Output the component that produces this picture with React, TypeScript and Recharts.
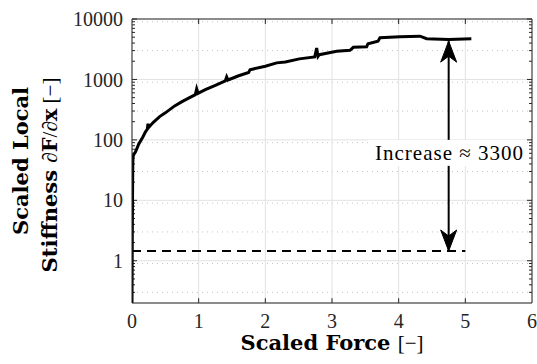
import React from 'react';
import { ComposedChart, Line, Scatter, XAxis, YAxis, CartesianGrid, ReferenceLine } from 'recharts';

// Scaled force (x) and scaled local stiffness (y) of the measured curve
const forceX = [0, 0.004, 0.008, 0.012, 0.015, 0.03, 0.055, 0.1, 0.165, 0.2, 0.23, 0.24, 0.25, 0.32, 0.415, 0.5, 0.64, 0.75, 0.85, 0.95, 0.97, 0.99, 1.1, 1.25, 1.4, 1.42, 1.44, 1.6, 1.75, 1.77, 2.0, 2.17, 2.3, 2.51, 2.74, 2.77, 2.79, 2.81, 3.07, 3.27, 3.32, 3.52, 3.54, 3.69, 3.72, 4.02, 4.32, 4.42, 4.75, 5.09];
const stiffness = [0.2, 2, 12, 40, 53, 58, 64, 85, 113, 135, 150, 185, 160, 195, 243, 280, 365, 430, 490, 560, 700, 590, 680, 800, 950, 1100, 980, 1150, 1300, 1450, 1650, 1880, 1950, 2190, 2350, 3300, 2400, 2570, 2930, 3030, 3400, 3480, 3900, 4300, 4900, 5080, 5200, 4710, 4580, 4700];

const baselineX = [0, 5];
const baselineLevel = 1.45;
const arrowX = 4.75;
const arrowY = [1.45, 4300];
const annotationX = [5.88];
const annotationY = [61];
const annotationText = 'Increase \u2248 3300';

const xTicks = [0, 1, 2, 3, 4, 5, 6];
const yTicks = [1, 10, 100, 1000, 10000];
const yMinor = [0.3, 0.4, 0.5, 0.6, 0.7, 0.8, 0.9, 2, 3, 4, 5, 6, 7, 8, 9, 20, 30, 40, 50, 60, 70, 80, 90, 200, 300, 400, 500, 600, 700, 800, 900, 2000, 3000, 4000, 5000, 6000, 7000, 8000, 9000];

const curveData = forceX.map((x, i) => ({ x, y: stiffness[i] }));
const baselineData = baselineX.map((x) => ({ x, y: baselineLevel }));
const arrowData = arrowY.map((y) => ({ x: arrowX, y }));
const annotationData = annotationX.map((x, i) => ({ x, y: annotationY[i] }));

const FONT = '"Liberation Serif", serif';
const BOLD_FONT = '"DejaVu Serif", serif';
const AX = '#262626';

const ArrowHead = (props: any) => {
  const { cx, cy, index } = props;
  if (cx == null || cy == null) return <g key={`ah-${index}`} />;
  const s = index === 0 ? -1 : 1; // 0: bottom (points down), 1: top (points up)
  const d = `M${cx},${cy} L${cx - 8},${cy + s * 21} L${cx},${cy + s * 15} L${cx + 8},${cy + s * 21} Z`;
  return <path key={`ah-${index}`} d={d} fill="#000" stroke="#000" strokeWidth={1} />;
};

const Annotation = (props: any) => {
  const { cx, cy } = props;
  return (
    <g>
      <rect x={cx - 156} y={cy - 13} width={158} height={26} fill="#fff" />
      <text x={cx} y={cy} dy="0.33em" textAnchor="end" fontFamily={FONT} fontSize={21} letterSpacing={1} fill="#000">
        {annotationText}
      </text>
    </g>
  );
};

const YLabel = (props: any) => {
  const vb = props.viewBox || { x: 0, y: 19, width: 132, height: 284 };
  const cy = vb.y + vb.height / 2;
  const cy2 = cy + 14;
  const x1 = vb.x + 28;
  const x2 = vb.x + 57;
  return (
    <g fontSize={21} fill="#000">
      <text x={x1} y={cy} textAnchor="middle" transform={`rotate(-90 ${x1} ${cy})`} fontWeight="bold" fontFamily={BOLD_FONT}>
        Scaled Local
      </text>
      <text x={x2} y={cy2} textAnchor="middle" transform={`rotate(-90 ${x2} ${cy2})`}>
        <tspan fontWeight="bold" fontFamily={BOLD_FONT}>Stiffness </tspan>
        <tspan fontFamily={FONT}>{'\u2202'}</tspan>
        <tspan fontWeight="bold" fontFamily={BOLD_FONT}>F</tspan>
        <tspan fontFamily={FONT}>{'/\u2202'}</tspan>
        <tspan fontWeight="bold" fontFamily={BOLD_FONT}>x</tspan>
        <tspan fontFamily={FONT}>{' [\u2212]'}</tspan>
      </text>
    </g>
  );
};

const XLabel = (props: any) => {
  const vb = props.viewBox || { x: 132, y: 303, width: 400, height: 61 };
  const cx = vb.x + vb.width / 2;
  const y = vb.y + 47;
  return (
    <text x={cx} y={y} textAnchor="middle" fontSize={21} fill="#000">
      <tspan fontWeight="bold" fontFamily={BOLD_FONT}>Scaled Force </tspan>
      <tspan fontFamily={FONT}>{'[\u2212]'}</tspan>
    </text>
  );
};

const tickStyle = { fontFamily: FONT, fontSize: 20, fill: AX };

export default function App() {
  const inwardTicks: React.ReactNode[] = [];
  yTicks.forEach((v) => {
    inwardTicks.push(<ReferenceLine key={`l${v}`} segment={[{ x: 0, y: v }, { x: 0.075, y: v }]} stroke={AX} />);
    inwardTicks.push(<ReferenceLine key={`r${v}`} segment={[{ x: 6, y: v }, { x: 5.925, y: v }]} stroke={AX} />);
  });
  yMinor.forEach((v) => {
    inwardTicks.push(<ReferenceLine key={`lm${v}`} segment={[{ x: 0, y: v }, { x: 0.045, y: v }]} stroke={AX} />);
    inwardTicks.push(<ReferenceLine key={`rm${v}`} segment={[{ x: 6, y: v }, { x: 5.955, y: v }]} stroke={AX} />);
  });
  xTicks.slice(1, -1).forEach((v) => {
    inwardTicks.push(<ReferenceLine key={`b${v}`} segment={[{ x: v, y: 0.2 }, { x: v, y: 0.24 }]} stroke={AX} />);
    inwardTicks.push(<ReferenceLine key={`t${v}`} segment={[{ x: v, y: 10000 }, { x: v, y: 8270 }]} stroke={AX} />);
  });

  return (
    <div style={{ position: 'absolute', left: 0, top: 0, background: '#fff' }}>
      <ComposedChart width={537} height={364} margin={{ top: 19, right: 5, bottom: 0, left: 0 }}>
        <CartesianGrid horizontalValues={yMinor} vertical={false} stroke="#c4c4c4" strokeDasharray="1 4" />
        <CartesianGrid stroke="#e2e2e2" />
        <XAxis
          dataKey="x"
          type="number"
          domain={[0, 6]}
          ticks={xTicks}
          allowDataOverflow
          height={61}
          tickLine={false}
          tickSize={0}
          tickMargin={11}
          tick={tickStyle}
          axisLine={{ stroke: AX }}
          label={<XLabel />}
        />
        <YAxis
          dataKey="y"
          type="number"
          scale="log"
          domain={[0.2, 10000]}
          ticks={yTicks}
          allowDataOverflow
          width={132}
          tickLine={false}
          tickSize={0}
          tickMargin={9}
          tick={tickStyle}
          axisLine={{ stroke: AX }}
          label={<YLabel />}
        />
        <ReferenceLine y={10000} stroke={AX} />
        <ReferenceLine x={6} stroke={AX} />
        {inwardTicks}
        <Line data={baselineData} dataKey="y" stroke="#000" strokeWidth={2} strokeDasharray="9 6" dot={false} isAnimationActive={false} />
        <Line data={curveData} dataKey="y" stroke="#000" strokeWidth={3} dot={false} type="linear" isAnimationActive={false} />
        <Line data={arrowData} dataKey="y" stroke="#000" strokeWidth={2} dot={ArrowHead} isAnimationActive={false} />
        <Scatter data={annotationData} dataKey="y" shape={Annotation} isAnimationActive={false} />
      </ComposedChart>
    </div>
  );
}
